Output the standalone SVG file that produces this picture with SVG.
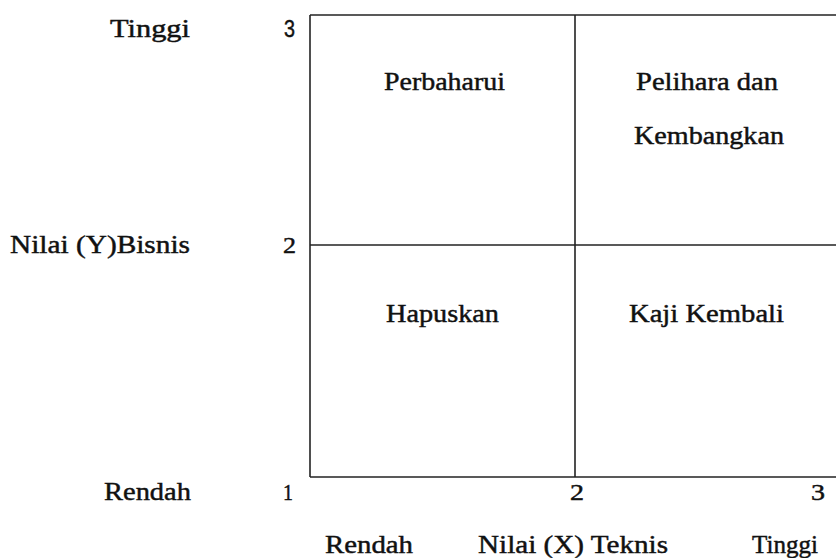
<svg xmlns="http://www.w3.org/2000/svg" width="836" height="558" viewBox="0 0 836 558">
<style>
text{font-family:"Liberation Serif","Times New Roman",serif;font-size:25px;fill:#111;stroke:#111;stroke-width:0.45;}
.n{font-size:23px;}
.ln{stroke:#222;stroke-width:1.6;fill:none;}
</style>
<rect width="836" height="558" fill="#fff"/>
<g id="connectors">
<line class="ln" x1="310" y1="15" x2="836" y2="15"/>
<line class="ln" x1="310" y1="15" x2="310" y2="477"/>
<line class="ln" x1="310" y1="477" x2="836" y2="477"/>
<line class="ln" x1="575" y1="15" x2="575" y2="477"/>
<line class="ln" x1="310" y1="245" x2="836" y2="245"/>
</g>
<g id="y-axis">
<text x="110" y="37" textLength="80" lengthAdjust="spacingAndGlyphs">Tinggi</text>
<text x="284" y="37" class="n" style="font-family:'Liberation Sans',Arial,sans-serif" textLength="11" lengthAdjust="spacingAndGlyphs">3</text>
<text x="10" y="253" textLength="180" lengthAdjust="spacingAndGlyphs">Nilai (Y)Bisnis</text>
<text x="283" y="253" class="n" textLength="13" lengthAdjust="spacingAndGlyphs">2</text>
<text x="104" y="500" textLength="87" lengthAdjust="spacingAndGlyphs">Rendah</text>
<text x="283" y="500" class="n" textLength="10" lengthAdjust="spacingAndGlyphs">1</text>
</g>
<g id="x-axis">
<text x="570" y="500" class="n" textLength="14" lengthAdjust="spacingAndGlyphs">2</text>
<text x="811" y="500" class="n" textLength="14" lengthAdjust="spacingAndGlyphs">3</text>
<text x="325" y="553" textLength="88" lengthAdjust="spacingAndGlyphs">Rendah</text>
<text x="478" y="553" textLength="190" lengthAdjust="spacingAndGlyphs">Nilai (X) Teknis</text>
<text x="752" y="553" textLength="66" lengthAdjust="spacingAndGlyphs">Tinggi</text>
</g>
<g id="q-perbaharui">
<text x="384" y="90" textLength="121" lengthAdjust="spacingAndGlyphs">Perbaharui</text>
</g>
<g id="q-pelihara">
<text x="636" y="90" textLength="142" lengthAdjust="spacingAndGlyphs">Pelihara dan</text>
<text x="634" y="144" textLength="150" lengthAdjust="spacingAndGlyphs">Kembangkan</text>
</g>
<g id="q-hapuskan">
<text x="386" y="322" textLength="113" lengthAdjust="spacingAndGlyphs">Hapuskan</text>
</g>
<g id="q-kaji">
<text x="629" y="322" textLength="155" lengthAdjust="spacingAndGlyphs">Kaji Kembali</text>
</g>
</svg>
